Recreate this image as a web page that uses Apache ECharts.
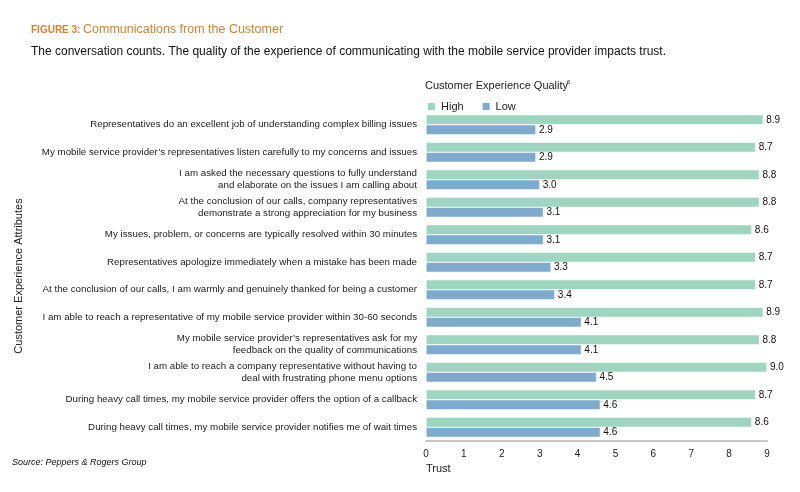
<!DOCTYPE html>
<html><head><meta charset="utf-8">
<script src="https://cdn.jsdelivr.net/npm/echarts@6/dist/echarts.min.js"></script>
<style>html,body{margin:0;padding:0;background:#fff}#c{width:800px;height:492px}</style>
</head><body><div id="c"></div>
<script>
const categories = [
  "Representatives do an excellent job of understanding complex billing issues",
  "My mobile service provider\u2019s representatives listen carefully to my concerns and issues",
  "I am asked the necessary questions to fully understand\nand elaborate on the issues I am calling about",
  "At the conclusion of our calls, company representatives\ndemonstrate a strong appreciation for my business",
  "My issues, problem, or concerns are typically resolved within 30 minutes",
  "Representatives apologize immediately when a mistake has been made",
  "At the conclusion of our calls, I am warmly and genuinely thanked for being a customer",
  "I am able to reach a representative of my mobile service provider within 30-60 seconds",
  "My mobile service provider\u2019s representatives ask for my\nfeedback on the quality of communications",
  "I am able to reach a company representative without having to\ndeal with frustrating phone menu options",
  "During heavy call times, my mobile service provider offers the option of a callback",
  "During heavy call times, my mobile service provider notifies me of wait times"
];
const highValues = [8.9, 8.7, 8.8, 8.8, 8.6, 8.7, 8.7, 8.9, 8.8, 9.0, 8.7, 8.6];
const lowValues  = [2.9, 2.9, 3.0, 3.1, 3.1, 3.3, 3.4, 4.1, 4.1, 4.5, 4.6, 4.6];
const xTicks = [0,1,2,3,4,5,6,7,8,9];

const FONT = '"Liberation Sans", Arial, sans-serif';
const chart = echarts.init(document.getElementById('c'), null, {renderer:'canvas'});
const lbl = {show:true, position:'right', distance:3, color:'#111', fontSize:10, fontFamily:FONT, formatter: p => p.value.toFixed(1)};
chart.setOption({
  animation:false,
  backgroundColor:'#fff',
  textStyle:{fontFamily:FONT},
  grid:{left:426, right:33, top:111, bottom:51, containLabel:false},
  legend:{left:421, top:96, itemWidth:9, itemHeight:9, itemGap:17, icon:'rect',
    textStyle:{fontSize:11, color:'#222', fontFamily:FONT}, data:['High','Low']},
  xAxis:{type:'value', min:0, max:9, interval:1,
    axisLine:{show:true, lineStyle:{color:'#c8c8c8', width:2}},
    axisTick:{show:false}, splitLine:{show:false},
    axisLabel:{color:'#222', fontSize:10, margin:8, formatter: v => xTicks.includes(v) ? String(v) : ''},
    name:'Trust', nameLocation:'start', nameGap:0,
    nameTextStyle:{fontSize:11, color:'#222', align:'left', verticalAlign:'top', padding:[22,0,0,0]}},
  yAxis:{type:'category', inverse:true, data:categories,
    axisLine:{show:false}, axisTick:{show:false},
    axisLabel:{color:'#222', fontSize:9.75, margin:9, lineHeight:12, align:'right'},
    name:'Customer Experience Attributes', nameLocation:'middle', nameRotate:90, nameGap:402,
    nameTextStyle:{fontSize:11, color:'#222'}},
  series:[
    {name:'High', type:'bar', data:highValues, barWidth:10, barGap:'0%',
     itemStyle:{color:'#9dd5c0', borderColor:'#fff', borderWidth:0.5}, label:lbl},
    {name:'Low', type:'bar', data:lowValues, barWidth:10, barGap:'0%',
     itemStyle:{color:'#7eaacd', borderColor:'#fff', borderWidth:0.5}, label:lbl}
  ],
  graphic:[
    {type:'text', left:31, top:25, style:{text:'FIGURE 3:', fontSize:10, fontWeight:'bold', fill:'#d9822b', fontFamily:FONT}},
    {type:'text', left:83, top:23, style:{text:'Communications from the Customer', fontSize:12.5, fill:'#d9822b', fontFamily:FONT}},
    {type:'text', left:31, top:46, style:{text:'The conversation counts. The quality of the experience of communicating with the mobile service provider impacts trust.', fontSize:12, fill:'#111', fontFamily:FONT}},
    {type:'text', left:425, top:80, style:{text:'Customer Experience Quality', fontSize:11, fill:'#222', fontFamily:FONT}},
    {type:'text', left:567, top:79, style:{text:'6', fontSize:6, fill:'#222', fontFamily:FONT}},
    {type:'text', left:12, top:458, style:{text:'Source: Peppers & Rogers Group', fontSize:9, fontStyle:'italic', fill:'#111', fontFamily:FONT}}
  ]
});
</script></body></html>
